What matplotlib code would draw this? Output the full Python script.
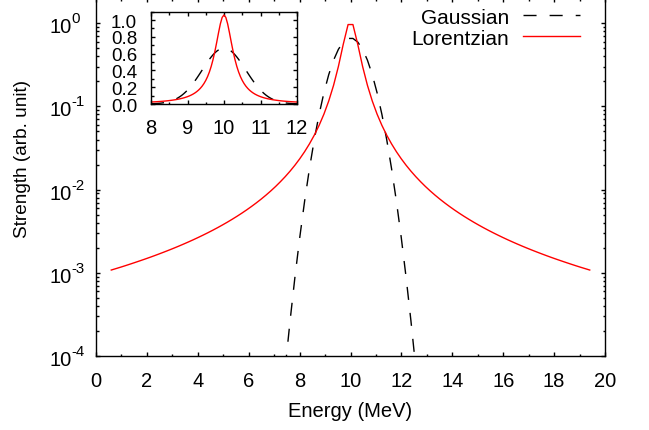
import matplotlib
matplotlib.use('Agg')
import matplotlib.pyplot as plt
from matplotlib.ticker import MultipleLocator, LogLocator, NullFormatter, FormatStrFormatter

plt.rcParams['font.family'] = ['Liberation Sans', 'DejaVu Sans']

# ---------------- data ----------------
main_x = [0.600, 0.790, 0.980, 1.170, 1.360, 1.549, 1.739, 1.929, 2.119, 2.309,
          2.499, 2.689, 2.879, 3.069, 3.259, 3.448, 3.638, 3.828, 4.018, 4.208,
          4.398, 4.588, 4.778, 4.968, 5.158, 5.347, 5.537, 5.727, 5.917, 6.107,
          6.297, 6.487, 6.677, 6.867, 7.057, 7.246, 7.436, 7.626, 7.816, 8.006,
          8.196, 8.386, 8.576, 8.766, 8.956, 9.145, 9.335, 9.525, 9.715, 9.905,
          10.095, 10.285, 10.475, 10.665, 10.855, 11.044, 11.234, 11.424, 11.614, 11.804,
          11.994, 12.184, 12.374, 12.564, 12.754, 12.943, 13.133, 13.323, 13.513, 13.703,
          13.893, 14.083, 14.273, 14.463, 14.653, 14.842, 15.032, 15.222, 15.412, 15.602,
          15.792, 15.982, 16.172, 16.362, 16.552, 16.741, 16.931, 17.121, 17.311, 17.501,
          17.691, 17.881, 18.071, 18.261, 18.451, 18.640, 18.830, 19.020, 19.210, 19.400]

lorentz_main = [1.080e-3, 1.125e-3, 1.172e-3, 1.223e-3, 1.278e-3, 1.336e-3, 1.398e-3, 1.464e-3, 1.535e-3, 1.612e-3,
                1.695e-3, 1.784e-3, 1.880e-3, 1.984e-3, 2.097e-3, 2.220e-3, 2.354e-3, 2.501e-3, 2.662e-3, 2.839e-3,
                3.034e-3, 3.250e-3, 3.490e-3, 3.758e-3, 4.057e-3, 4.393e-3, 4.773e-3, 5.205e-3, 5.698e-3, 6.264e-3,
                6.919e-3, 7.681e-3, 8.577e-3, 9.638e-3, 1.091e-2, 1.245e-2, 1.433e-2, 1.668e-2, 1.965e-2, 2.349e-2,
                2.855e-2, 3.543e-2, 4.508e-2, 5.918e-2, 8.087e-2, 0.1164, 0.1796, 0.3028, 0.5581, 0.9645,
                0.9645, 0.5581, 0.3028, 0.1796, 0.1164, 8.087e-2, 5.918e-2, 4.508e-2, 3.543e-2, 2.855e-2,
                2.349e-2, 1.965e-2, 1.668e-2, 1.433e-2, 1.245e-2, 1.091e-2, 9.638e-3, 8.577e-3, 7.681e-3, 6.919e-3,
                6.264e-3, 5.698e-3, 5.205e-3, 4.773e-3, 4.393e-3, 4.057e-3, 3.758e-3, 3.490e-3, 3.250e-3, 3.034e-3,
                2.839e-3, 2.662e-3, 2.501e-3, 2.354e-3, 2.220e-3, 2.097e-3, 1.984e-3, 1.880e-3, 1.784e-3, 1.695e-3,
                1.612e-3, 1.535e-3, 1.464e-3, 1.398e-3, 1.336e-3, 1.278e-3, 1.223e-3, 1.172e-3, 1.125e-3, 1.080e-3]

gauss_x = main_x[36:64]
gauss_main = [7.23e-5, 2.657e-4, 8.84e-4, 2.658e-3, 7.24e-3, 1.783e-2, 3.974e-2, 8.013e-2, 0.1462, 0.2412,
              0.3600, 0.4862, 0.5941, 0.6566,
              0.6566, 0.5941, 0.4862, 0.3600, 0.2412, 0.1462, 8.013e-2, 3.974e-2, 1.783e-2, 7.24e-3,
              2.658e-3, 8.84e-4, 2.657e-4, 7.23e-5]

inset_x = [8.00, 8.05, 8.10, 8.15, 8.20, 8.25, 8.30, 8.35, 8.40, 8.45,
           8.50, 8.55, 8.60, 8.65, 8.70, 8.75, 8.80, 8.85, 8.90, 8.95,
           9.00, 9.05, 9.10, 9.15, 9.20, 9.25, 9.30, 9.35, 9.40, 9.45,
           9.50, 9.55, 9.60, 9.65, 9.70, 9.75, 9.80, 9.85, 9.90, 9.95,
           10.00,
           10.05, 10.10, 10.15, 10.20, 10.25, 10.30, 10.35, 10.40, 10.45, 10.50,
           10.55, 10.60, 10.65, 10.70, 10.75, 10.80, 10.85, 10.90, 10.95, 11.00,
           11.05, 11.10, 11.15, 11.20, 11.25, 11.30, 11.35, 11.40, 11.45, 11.50,
           11.55, 11.60, 11.65, 11.70, 11.75, 11.80, 11.85, 11.90, 11.95, 12.00]

lorentz_inset = [0.02335, 0.02453, 0.02581, 0.02719, 0.02868, 0.03029, 0.03205, 0.03395, 0.03604, 0.03831,
                 0.04081, 0.04355, 0.04658, 0.04993, 0.05365, 0.05779, 0.06241, 0.06761, 0.07346, 0.08008,
                 0.08761, 0.09622, 0.1061, 0.1175, 0.1308, 0.1464, 0.1646, 0.1863, 0.2122, 0.2433,
                 0.2809, 0.3265, 0.3820, 0.4494, 0.5305, 0.6262, 0.7346, 0.8488, 0.9549, 1.0324,
                 1.0610,
                 1.0324, 0.9549, 0.8488, 0.7346, 0.6262, 0.5305, 0.4494, 0.3820, 0.3265, 0.2809,
                 0.2433, 0.2122, 0.1863, 0.1646, 0.1464, 0.1308, 0.1175, 0.1061, 0.09622, 0.08761,
                 0.08008, 0.07346, 0.06761, 0.06241, 0.05779, 0.05365, 0.04993, 0.04658, 0.04355, 0.04081,
                 0.03831, 0.03604, 0.03395, 0.03205, 0.03029, 0.02868, 0.02719, 0.02581, 0.02453, 0.02335]

gauss_inset = [0.002571, 0.003381, 0.004418, 0.005733, 0.007386, 0.009450, 0.01201, 0.01516, 0.01899, 0.02364,
               0.02921, 0.03586, 0.04370, 0.05290, 0.06359, 0.07591, 0.08998, 0.1059, 0.1239, 0.1438,
               0.1658, 0.1898, 0.2159, 0.2438, 0.2734, 0.3044, 0.3367, 0.3698, 0.4033, 0.4368,
               0.4699, 0.5019, 0.5324, 0.5609, 0.5868, 0.6096, 0.6290, 0.6444, 0.6557, 0.6626,
               0.6649,
               0.6626, 0.6557, 0.6444, 0.6290, 0.6096, 0.5868, 0.5609, 0.5324, 0.5019, 0.4699,
               0.4368, 0.4033, 0.3698, 0.3367, 0.3044, 0.2734, 0.2438, 0.2159, 0.1898, 0.1658,
               0.1438, 0.1239, 0.1059, 0.08998, 0.07591, 0.06359, 0.05290, 0.04370, 0.03586, 0.02921,
               0.02364, 0.01899, 0.01516, 0.01201, 0.009450, 0.007386, 0.005733, 0.004418, 0.003381, 0.002571]

series_labels = ['Gaussian', 'Lorentzian']
y_exponents = [0, -1, -2, -3, -4]
x_label = 'Energy (MeV)'
y_label = 'Strength (arb. unit)'

# ---------------- figure ----------------
W, H = 649, 431
fig = plt.figure(figsize=(W / 100, H / 100), dpi=100)

ax = fig.add_axes([96 / W, 1 - 357 / H, (605 - 96) / W, (357 + 0.8) / H])
ax.plot(gauss_x, gauss_main, color='black', lw=1.0, dashes=(9.4, 9.4), label=series_labels[0])
ax.plot(main_x, lorentz_main, color='red', lw=1.0, label=series_labels[1])
ax.set_yscale('log')
ax.set_xlim(0, 20)
ax.set_ylim(1e-4, 2)

ax.xaxis.set_major_locator(MultipleLocator(2))
ax.xaxis.set_minor_locator(MultipleLocator(1))
ax.yaxis.set_major_locator(LogLocator(base=10, numticks=20))
ax.yaxis.set_minor_locator(LogLocator(base=10, subs=range(2, 10), numticks=20))
ax.yaxis.set_major_formatter(NullFormatter())
ax.yaxis.set_minor_formatter(NullFormatter())
ax.tick_params(which='both', direction='in', top=True, right=True, width=1.0)
ax.tick_params(which='major', length=3.2)
ax.tick_params(which='minor', length=1.8)
ax.tick_params(axis='x', which='major', labelsize=14.5, pad=10.5)
for s in ax.spines.values():
    s.set_linewidth(1.0)

for e in y_exponents:
    ax.annotate('10', xy=(0, 10.0 ** e), xycoords=('axes fraction', 'data'),
                xytext=(-17.6, -6.5), textcoords='offset points',
                ha='right', va='baseline', fontsize=14.5)
    ax.annotate(str(e), xy=(0, 10.0 ** e), xycoords=('axes fraction', 'data'),
                xytext=(-17.6, 0.7), textcoords='offset points',
                ha='left', va='baseline', fontsize=10.8)

fig.text(23 / W, 1 - 159 / H, y_label, rotation=90, ha='center', va='center', fontsize=13.7)
fig.text(350.5 / W, 1 - 417 / H, x_label, ha='center', va='baseline', fontsize=14.5)

ax.legend(loc='upper right', bbox_to_anchor=(580 / W, 1 - 8.5 / H), bbox_transform=fig.transFigure,
          frameon=False, markerfirst=False, handlelength=2.74, handletextpad=0.67,
          borderpad=0, borderaxespad=0, labelspacing=0.1, fontsize=15)

# ---------------- inset ----------------
axin = fig.add_axes([151 / W, 1 - 105 / H, 146 / W, (105 - 12.7) / H])
axin.set_facecolor('white')
axin.plot(inset_x, gauss_inset, color='black', lw=1.0, dashes=(9.4, 9.4))
axin.plot(inset_x, lorentz_inset, color='red', lw=1.0)
axin.set_xlim(8, 12)
axin.set_ylim(0, 1.1)
axin.xaxis.set_major_locator(MultipleLocator(1))
axin.xaxis.set_minor_locator(MultipleLocator(0.5))
axin.yaxis.set_major_locator(MultipleLocator(0.2))
axin.yaxis.set_minor_locator(MultipleLocator(0.1))
axin.yaxis.set_major_formatter(FormatStrFormatter('%.1f'))
axin.tick_params(which='both', direction='in', top=True, right=True, width=1.0)
axin.tick_params(which='major', length=3.2, pad=10)
axin.tick_params(which='minor', length=1.8)
axin.tick_params(axis='x', labelsize=14.5)
axin.tick_params(axis='y', labelsize=13.5)
for s in axin.spines.values():
    s.set_linewidth(1.0)

fig.savefig('out.png', dpi=100)
